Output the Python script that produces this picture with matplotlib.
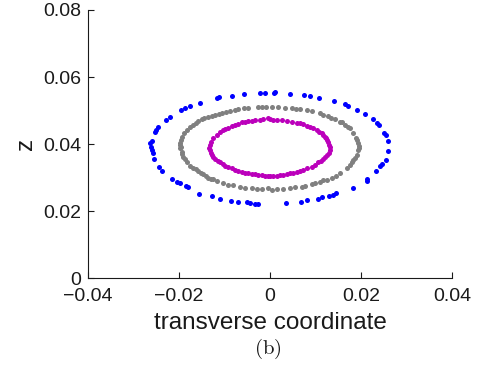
import numpy as np
import matplotlib
matplotlib.use('Agg')
import matplotlib.pyplot as plt

# point positions, in units of 1e-3
blue_x = [-11.14, -11.58, -8.42, -5.71, -2.20, -1.10, 0.88, 1.16, -15.38, -17.58,
          -18.68, -19.63, -21.98, -22.86, -24.68, -25.05, -25.27, -26.00, -26.37, -26.22,
          -25.87, -25.78, -25.49, -24.46, -23.74, -21.54, -20.37, -19.78, -18.46, -17.96,
          -15.60, -12.81, -10.99, -8.57, -7.10, -5.12, -4.40, -3.36, -2.57, 4.40,
          7.54, 8.79, 10.84, 14.07, 16.48, 17.08, 19.12, 20.88, 22.70, 23.45,
          23.89, 25.05, 25.49, 25.93, 26.00, 25.49, 24.55, 24.18, 23.30, 21.38,
          21.25, 18.18, 14.51, 13.78, 13.03, 11.43, 10.62, 8.07, 6.81, 3.52]
blue_z = [53.94, 53.64, 54.42, 54.93, 55.13, 55.13, 55.13, 55.43, 52.15, 51.34,
          50.84, 50.15, 47.97, 47.16, 45.16, 44.18, 43.67, 40.99, 40.21, 39.19,
          38.21, 37.40, 35.43, 33.04, 32.03, 29.64, 28.57, 28.27, 27.46, 27.07,
          25.16, 24.39, 23.58, 23.07, 22.60, 22.69, 22.30, 22.18, 22.18, 54.93,
          54.63, 54.42, 53.82, 52.84, 51.94, 51.43, 50.24, 48.87, 47.37, 46.36,
          45.67, 43.37, 42.69, 40.99, 37.91, 35.22, 34.03, 33.43, 32.03, 29.64,
          29.04, 26.96, 25.28, 24.78, 24.48, 24.09, 23.49, 23.19, 22.60, 22.48]

gray_x = [-19.78, -19.78, -19.78, -19.56, -19.27, -18.84, -18.31, -17.58, -16.86, -15.76,
          -15.01, -13.69, -12.09, -10.62, -7.69, -6.97, -5.65, -4.77, -2.57, 0.37,
          1.82, 3.30, 6.59, 8.07, 9.16, 10.99, 11.71, 14.29, 15.38, 16.48,
          17.58, 18.31, 18.90, 19.41, 19.63, 19.41, 19.05, 18.31, 17.58, 16.99,
          15.38, 13.56, 11.71, 10.99, 9.16, 6.97, 4.40, 2.92, 1.47, 0.37,
          -0.37, -1.82, -2.92, -4.02, -5.49, -6.59, -8.07, -9.16, -10.26, -11.71,
          -12.46, -13.56, -14.66, -15.76, -16.86, -17.58, -18.31, -19.05, -19.41, -19.67,
          -9.67, -8.79, -1.76, -0.88, 4.84, 5.71, 12.75, 13.41, 15.82, 17.14,
          19.12, 19.56, 18.68, 18.02, 14.51, 12.53, 9.89, 7.69, 5.49, -12.97,
          -14.07, -15.16, -16.26, -18.68, -19.27, -16.35, -14.40, -12.86, -11.32]
gray_z = [38.72, 39.70, 40.21, 41.19, 42.18, 43.19, 44.18, 45.16, 45.67, 46.96,
          47.37, 47.97, 48.75, 49.34, 50.24, 50.36, 50.66, 50.84, 51.13, 51.13,
          51.13, 50.84, 50.45, 50.15, 49.85, 49.16, 48.66, 47.37, 46.66, 45.67,
          44.69, 43.19, 41.70, 40.21, 38.72, 38.21, 36.72, 35.22, 33.73, 32.75,
          31.25, 29.76, 29.16, 28.75, 27.97, 27.25, 26.78, 26.48, 26.48, 26.27,
          26.78, 26.57, 26.66, 26.78, 26.96, 27.08, 27.67, 27.76, 28.27, 28.96,
          29.46, 29.94, 30.96, 31.94, 32.75, 33.52, 34.72, 36.21, 37.52, 39.25,
          49.70, 49.91, 51.19, 51.13, 50.60, 50.51, 48.21, 47.76, 46.42, 45.22,
          41.05, 39.40, 35.97, 34.48, 30.45, 29.40, 28.21, 27.46, 27.02, 29.70,
          30.45, 31.34, 32.39, 35.52, 36.87, 46.33, 47.67, 48.36, 49.05]

mag_x = [-13.34, -13.19, -12.97, -12.46, -11.71, -10.99, -10.44, -9.89, -9.16, -8.42,
         -7.69, -6.97, -6.22, -5.49, -4.77, -4.02, -3.30, -2.20, -1.47, -0.37,
         0.00, 0.73, 1.47, 2.57, 3.67, 4.77, 5.87, 6.59, 7.32, 8.07,
         8.79, 9.52, 10.26, 10.81, 11.36, 11.71, 12.09, 12.35, 12.59, 12.81,
         13.03, 13.19, 13.19, 13.03, 12.46, 12.09, 11.71, 11.16, 10.62, 9.89,
         9.16, 8.24, 7.32, 6.59, 5.87, 5.12, 4.40, 3.67, 2.92, 2.20,
         1.47, 0.73, 0.00, -0.55, -1.10, -1.82, -2.57, -3.30, -4.02, -4.77,
         -5.49, -6.22, -6.97, -7.69, -8.42, -9.16, -9.89, -10.44, -10.99, -11.54,
         -12.09, -12.46, -12.81, -13.01, -13.19]
mag_z = [38.72, 39.70, 40.69, 41.70, 42.69, 43.67, 44.09, 44.48, 44.87, 45.28,
         45.67, 46.06, 46.48, 46.66, 46.78, 46.87, 47.02, 47.16, 47.37, 47.67,
         47.37, 47.28, 47.16, 47.02, 46.87, 46.63, 46.36, 46.12, 45.88, 45.52,
         45.16, 44.69, 44.18, 43.67, 43.19, 42.69, 42.18, 41.70, 41.19, 40.45,
         39.70, 38.96, 38.21, 37.46, 36.72, 36.12, 35.52, 35.02, 34.54, 33.88,
         33.22, 32.75, 32.24, 32.00, 31.73, 31.49, 31.25, 30.99, 30.75, 30.66,
         30.54, 30.51, 30.45, 30.51, 30.54, 30.66, 30.75, 30.90, 31.05, 31.25,
         31.43, 31.70, 31.94, 32.33, 32.75, 33.13, 33.52, 34.03, 34.54, 35.02,
         35.52, 36.12, 36.72, 37.46, 38.21]

xticks = [-0.04, -0.02, 0, 0.02, 0.04]
xticklabels = ['\u22120.04', '\u22120.02', '0', '0.02', '0.04']
yticks = [0, 0.02, 0.04, 0.06, 0.08]
yticklabels = ['0', '0.02', '0.04', '0.06', '0.08']

plt.rcParams['font.family'] = ['Liberation Sans', 'DejaVu Sans']
plt.rcParams['mathtext.fontset'] = 'cm'

fig = plt.figure(figsize=(4.81, 3.69), dpi=100)
ax = fig.add_axes([0.183, 0.2466, 0.7567, 0.7263])

ax.scatter(np.array(blue_x) * 1e-3, np.array(blue_z) * 1e-3, s=13, color='#0000ff', linewidths=0)
ax.scatter(np.array(gray_x) * 1e-3, np.array(gray_z) * 1e-3, s=13, color='#808080', linewidths=0)
ax.scatter(np.array(mag_x) * 1e-3, np.array(mag_z) * 1e-3, s=13, color='#bb00bb', linewidths=0)

ax.set_xlim(-0.04, 0.04)
ax.set_ylim(0, 0.08)
ax.set_xticks(xticks)
ax.set_xticklabels(xticklabels)
ax.set_yticks(yticks)
ax.set_yticklabels(yticklabels)
ax.tick_params(direction='in', length=4, width=0.8, labelsize=14, colors='#1a1a1a')
ax.tick_params(axis='x', pad=7)
ax.tick_params(axis='y', pad=5)
for side in ['top', 'right']:
    ax.spines[side].set_visible(False)
for side in ['left', 'bottom']:
    ax.spines[side].set_linewidth(0.8)
    ax.spines[side].set_color('#1a1a1a')

ax.set_xlabel('transverse coordinate', fontsize=17.5, color='#1a1a1a', labelpad=5)
ax.set_ylabel('z', fontsize=17.5, color='#1a1a1a', labelpad=4)

fig.text(0.557, 0.055, r'$\mathrm{(b)}$', fontsize=15, ha='center', va='center', color='#1a1a1a')

fig.savefig('out.png', dpi=100)
